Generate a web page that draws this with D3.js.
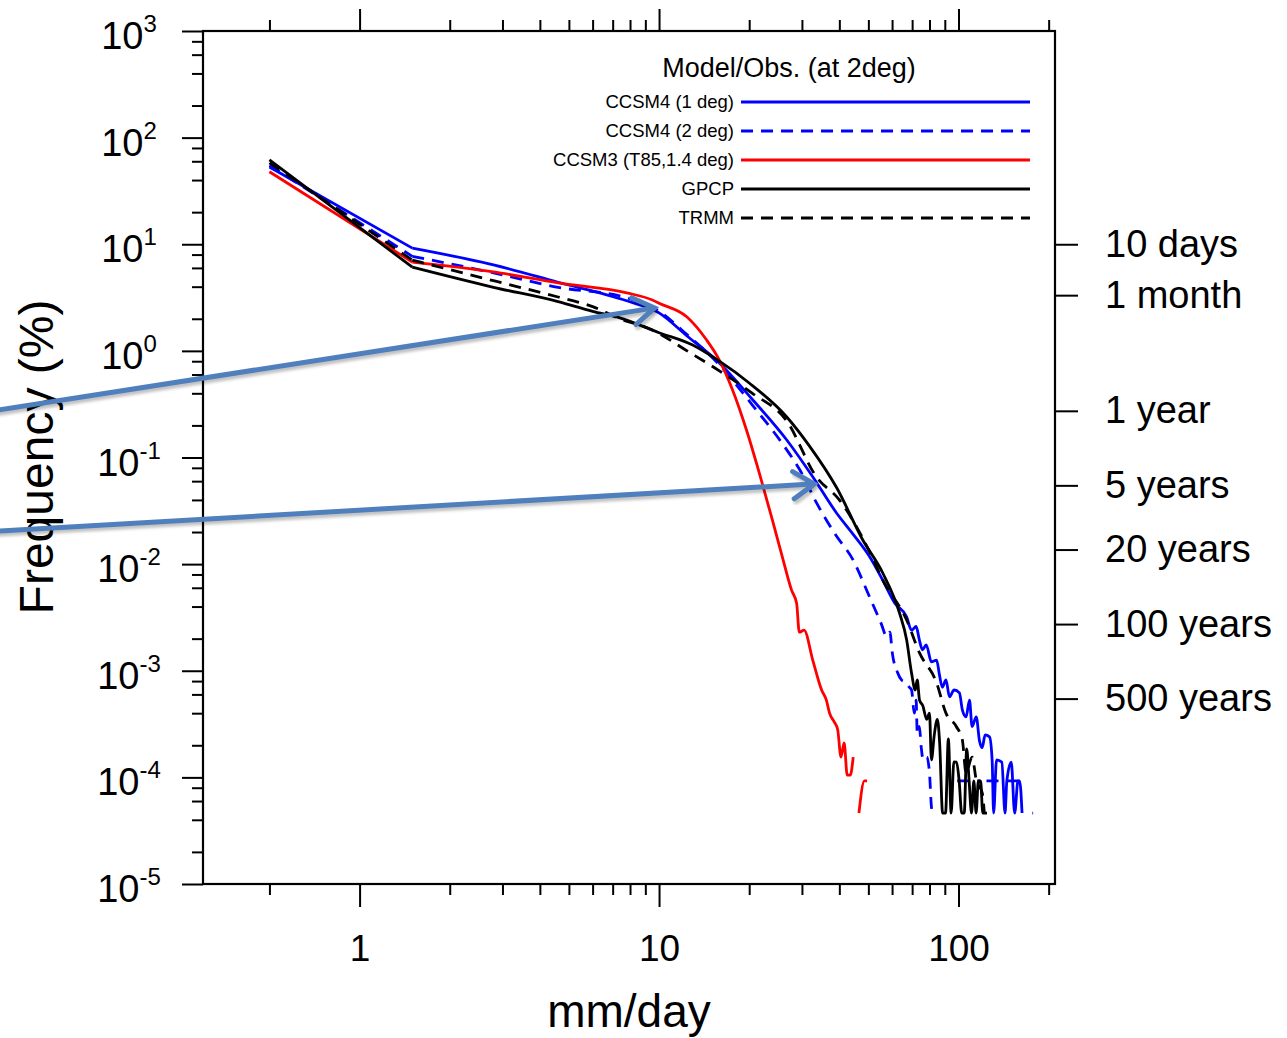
<!DOCTYPE html>
<html>
<head>
<meta charset="utf-8">
<script src="https://cdn.jsdelivr.net/npm/d3@7/dist/d3.min.js"></script>
<style>
  body { margin: 0; background: #fff; }
  text { font-family: "Liberation Sans", Arial, Helvetica, sans-serif; fill: #000; }
</style>
</head>
<body>
<div id="chart"></div>
<script>
// series: [mm/day, frequency %], null = empty bin
var ccsm4_1deg = [[0.5, 53], [1.5, 9.2], [2.8, 6.4], [4.6, 4.4], [7.8, 2.95], [10, 2.27], [12.4, 1.38],
  [15.9, 0.77], [20.5, 0.35], [26.7, 0.146], [32.6, 0.066], [39.2, 0.030], [44.5, 0.019], [50.5, 0.0117],
  [55.8, 0.0071], [61.3, 0.0043], [67.1, 0.0032], [69.7, 0.0024], [72.2, 0.0026], [74, 0.00195],
  [75.8, 0.00157], [78, 0.00175], [81.2, 0.00121], [84.5, 0.00126], [86.4, 0.00091], [88.3, 0.0007],
  [90.8, 0.00082], [93.3, 0.00057], [96.7, 0.00066], [100.7, 0.00062], [103, 0.00043], [106, 0.00037],
  [108.8, 0.00053], [111, 0.0003], [114.6, 0.00037], [117.5, 0.00022], [120, 0.00019], [122.7, 0.00025],
  [126.9, 0.00024], [129.5, 0.000146], [131, 0.0000463], [134, 0.000146], [139.5, 0.000139],
  [143, 0.0000463], [145, 0.0000926], [150, 0.000139], [154, 0.0000463], [158, 0.0000926],
  [160, 0.0000926], [163, 0.0000463], [165, null], [176.5, 0.0000463], [177.5, 0.0000463]];

var ccsm4_2deg = [[0.5, 55], [1.5, 7.7], [2.8, 5.4], [4.6, 3.95], [7.8, 3.15], [10, 2.35], [12.4, 1.42],
  [15.9, 0.74], [20.5, 0.31], [26.7, 0.118], [29.4, 0.078], [33.5, 0.038], [38.5, 0.0196], [44.4, 0.011],
  [50.5, 0.0049], [55.1, 0.0028], [57.6, 0.0021], [59, 0.0023], [60.1, 0.00147], [62.7, 0.00095],
  [64.5, 0.00082], [67.1, 0.00077], [68.5, 0.0007], [69.7, 0.00066], [71.2, 0.0004], [72.2, 0.00053],
  [72.8, 0.00026], [74, 0.0003], [75.1, 0.00019], [76.2, 0.000146], [78.3, 0.000155], [80, 0.00011],
  [81.2, 0.000053], [82, 0.0000463], [83, null], [99, 0.0000926], [118, 0.0000926], [119, null],
  [124, 0.0000926], [160, 0.0000926]];

var ccsm3_t85 = [[0.5, 47.8], [1.5, 6.8], [2.8, 5.5], [4.6, 4.35], [7.8, 3.5], [9.5, 3.0], [10, 2.8],
  [12.4, 2.08], [14.4, 1.27], [15.9, 0.82], [17.6, 0.43], [19.6, 0.18], [21.6, 0.072], [23.9, 0.026],
  [25.8, 0.0117], [27.7, 0.0057], [28.8, 0.0043], [29.4, 0.0023], [30.5, 0.0024], [32.6, 0.00126],
  [34.9, 0.00066], [36.2, 0.00053], [37.1, 0.0004], [38.5, 0.00033], [39.5, 0.00028], [40.5, 0.000155],
  [41.5, 0.00021], [42.5, 0.000105], [43.5, 0.000105], [44.5, 0.000155], [45.5, null],
  [46.5, 0.0000463], [48.5, 0.0000926], [49.5, 0.0000926]];

var gpcp = [[0.5, 62], [1.5, 6.1], [2.8, 3.95], [4.6, 2.9], [6, 2.35], [7.4, 2.04], [10, 1.48], [12.9, 1.14],
  [15.9, 0.8], [20, 0.5], [26.7, 0.24], [31.8, 0.128], [39.2, 0.052], [47.8, 0.017], [55.8, 0.0083],
  [63.5, 0.0035], [67.1, 0.00195], [69.7, 0.00095], [71.7, 0.00066], [72.8, 0.00082], [74.1, 0.00053],
  [76, 0.00047], [78.3, 0.00035], [80, 0.0004], [81.2, 0.000146], [83, 0.00025], [85, 0.00035],
  [86.5, 0.00021], [88.5, 0.0000463], [90.5, 0.0000463], [92.5, 0.00023], [94.5, 0.0000463],
  [96.5, 0.00014], [98.5, 0.000139], [100.5, 0.0000926], [102.5, 0.0000463], [104.5, 0.0000463],
  [106.5, 0.000185], [108.5, 0.0000926], [110.5, 0.0000463], [112.5, 0.0000926], [114.5, 0.0000463],
  [116.5, 0.0000926], [118.5, 0.0000926], [120.5, 0.0000463], [124.5, 0.0000463]];

var trmm = [[0.5, 58], [1.5, 7.1], [2.8, 4.55], [4.6, 3.2], [6, 2.6], [7.4, 2.0], [9.5, 1.57], [12.4, 1.0],
  [15.9, 0.65], [20.5, 0.4], [26.7, 0.22], [33.5, 0.066], [40, 0.04], [50.5, 0.013], [55.8, 0.0071],
  [67.1, 0.003], [74.1, 0.00147], [84.5, 0.00077], [90.8, 0.0004], [98.3, 0.0003], [103, 0.000224],
  [106, 0.00011], [111, 0.000155], [114.6, 0.0000946], [120, 0.0000715], [122, 0.0000463]];

var seriesNames = ['CCSM4 (1 deg)', 'CCSM4 (2 deg)', 'CCSM3 (T85,1.4 deg)', 'GPCP', 'TRMM'];
var legendTitle = 'Model/Obs. (at 2deg)';

// axis ticks
var xMajorTicks = [1, 10, 100];
var xMinorTicks = [0.5, 2, 3, 4, 5, 6, 7, 8, 9, 20, 30, 40, 50, 60, 70, 80, 90, 200];
var yExponents = [3, 2, 1, 0, -1, -2, -3, -4, -5];
var yMinorMantissas = [2, 4, 6, 8];

// right axis: return periods
var returnLabels = ['10 days', '1 month', '1 year', '5 years', '20 years', '100 years', '500 years'];
var returnFreq = [10, 3.33, 0.274, 0.0548, 0.0137, 0.00274, 0.000548];

// annotation arrows [mm/day, %]
var arrowTails = [[0.058, 0.271], [0.058, 0.0202]];
var arrowTips = [[9.66, 2.53], [33.0, 0.0565]];

var width = 1287, height = 1038;
var plotLeft = 203, plotRight = 1055, plotTop = 31, plotBottom = 884;
var font = '"Liberation Sans", Arial, Helvetica, sans-serif';

var colors = ['#0000ff', '#0000ff', '#ff0000', '#000000', '#000000'];
var dashes = [null, '12,8', null, null, '12,8'];

var svg = d3.select('#chart')
  .append('svg')
  .attr('width', width)
  .attr('height', height);

var x = d3.scaleLog().domain([0.3, 210]).range([plotLeft, plotRight]);
var y = d3.scaleLog().domain([1e-5, 1e3]).range([plotBottom, plotTop]);

function cleanAxis(g, size) {
  g.select('.domain').remove();
  g.selectAll('line').attr('stroke', '#000').attr('stroke-width', 2);
  g.attr('font-family', font).attr('font-size', size || 10);
}

// bottom
svg.append('g')
  .attr('transform', 'translate(0,' + plotBottom + ')')
  .call(d3.axisBottom(x).tickValues(xMinorTicks).tickSize(11).tickFormat(''))
  .call(cleanAxis);
svg.append('g')
  .attr('transform', 'translate(0,' + plotBottom + ')')
  .call(d3.axisBottom(x).tickValues(xMajorTicks).tickSize(23).tickPadding(28).tickFormat(d3.format('d')))
  .call(cleanAxis, 37);

// top
svg.append('g')
  .attr('transform', 'translate(0,' + plotTop + ')')
  .call(d3.axisTop(x).tickValues(xMinorTicks).tickSize(11).tickFormat(''))
  .call(cleanAxis);
svg.append('g')
  .attr('transform', 'translate(0,' + plotTop + ')')
  .call(d3.axisTop(x).tickValues(xMajorTicks).tickSize(22).tickFormat(''))
  .call(cleanAxis);

// left
var yMinor = [];
yExponents.slice(1).forEach(function(e) {
  yMinorMantissas.forEach(function(m) { yMinor.push(m * Math.pow(10, e)); });
});
svg.append('g')
  .attr('transform', 'translate(' + plotLeft + ',0)')
  .call(d3.axisLeft(y).tickValues(yMinor).tickSize(11).tickFormat(''))
  .call(cleanAxis);
svg.append('g')
  .attr('transform', 'translate(' + plotLeft + ',0)')
  .call(d3.axisLeft(y).tickValues(yExponents.map(function(e) { return Math.pow(10, e); })).tickSize(21).tickFormat(''))
  .call(cleanAxis);

var yLab = svg.append('g').selectAll('text')
  .data(yExponents)
  .enter()
  .append('text')
  .attr('x', 129)
  .attr('y', function(d) { return y(Math.pow(10, d)) + 18; })
  .attr('text-anchor', 'middle')
  .attr('font-size', 38);
yLab.append('tspan').text('10');
yLab.append('tspan')
  .attr('dy', -17)
  .attr('font-size', 24)
  .text(function(d) { return d < 0 ? '-' + (-d) : d; });

// right
svg.append('g')
  .attr('transform', 'translate(' + plotRight + ',0)')
  .call(d3.axisRight(y).tickValues(returnFreq).tickSize(23).tickPadding(27)
    .tickFormat(function(d, i) { return returnLabels[i]; }))
  .call(cleanAxis, 38);

// frame
svg.append('rect')
  .attr('x', plotLeft).attr('y', plotTop)
  .attr('width', plotRight - plotLeft).attr('height', plotBottom - plotTop)
  .attr('fill', 'none').attr('stroke', '#000').attr('stroke-width', 2.2);

// data lines: straight first bin segment, smooth afterwards
var lineHead = d3.line()
  .x(function(d) { return x(d[0]); })
  .y(function(d) { return y(d[1]); });
var lineRest = d3.line()
  .defined(function(d) { return d[1] != null; })
  .curve(d3.curveMonotoneX)
  .x(function(d) { return x(d[0]); })
  .y(function(d) { return y(d[1]); });

var allSeries = [ccsm4_1deg, ccsm4_2deg, ccsm3_t85, gpcp, trmm];

allSeries.forEach(function(s, i) {
  var g = svg.append('g')
    .attr('fill', 'none')
    .attr('stroke', colors[i])
    .attr('stroke-width', 2.8)
    .attr('stroke-linejoin', 'round')
    .attr('stroke-dasharray', dashes[i]);
  g.append('path').attr('d', lineHead(s.slice(0, 2)));
  g.append('path').attr('d', lineRest(s.slice(1)));
});

// legend
var legend = svg.append('g');
legend.append('text')
  .attr('x', 789).attr('y', 77)
  .attr('text-anchor', 'middle')
  .attr('font-size', 27)
  .text(legendTitle);

var rows = legend.selectAll('.legend')
  .data(seriesNames)
  .enter()
  .append('g')
  .attr('class', 'legend')
  .attr('transform', function(d, i) { return 'translate(0,' + (102 + i * 29) + ')'; });

rows.append('text')
  .attr('x', 734).attr('y', 6)
  .attr('text-anchor', 'end')
  .attr('font-size', 18.5)
  .text(function(d) { return d; });

rows.append('line')
  .attr('x1', 741).attr('x2', 1030)
  .attr('y1', 0).attr('y2', 0)
  .attr('stroke', function(d, i) { return colors[i]; })
  .attr('stroke-width', 2.8)
  .attr('stroke-dasharray', function(d, i) { return dashes[i]; });

// axis titles
svg.append('text')
  .attr('transform', 'translate(53,457) rotate(-90)')
  .attr('text-anchor', 'middle')
  .attr('font-size', 48)
  .text('Frequency (%)');

svg.append('text')
  .attr('x', 629).attr('y', 1027)
  .attr('text-anchor', 'middle')
  .attr('font-size', 46)
  .text('mm/day');

// arrows
var defs = svg.append('defs');
defs.append('filter').attr('id', 'shadow')
  .append('feGaussianBlur').attr('stdDeviation', 1.5);

arrowTips.forEach(function(tip, i) {
  var x0 = x(arrowTails[i][0]), y0 = y(arrowTails[i][1]);
  var x1 = x(tip[0]), y1 = y(tip[1]);
  var a = Math.atan2(y1 - y0, x1 - x0);
  var L = 25, th = 33 * Math.PI / 180;
  var head = [[x1 - L * Math.cos(a - th), y1 - L * Math.sin(a - th)], [x1, y1],
              [x1 - L * Math.cos(a + th), y1 - L * Math.sin(a + th)]];
  var shaft = [[x0, y0], [x1 - 3 * Math.cos(a), y1 - 3 * Math.sin(a)]];
  var g = svg.append('g');
  [[2, 3, 'rgba(0,0,0,0.25)', 'url(#shadow)'], [0, 0, '#4f7fbd', null]].forEach(function(s) {
    g.append('path')
      .attr('d', d3.line()(shaft))
      .attr('transform', 'translate(' + s[0] + ',' + s[1] + ')')
      .attr('stroke', s[2]).attr('stroke-width', 5).attr('fill', 'none')
      .attr('filter', s[3]);
    g.append('path')
      .attr('d', d3.line()(head))
      .attr('transform', 'translate(' + s[0] + ',' + s[1] + ')')
      .attr('stroke', s[2]).attr('stroke-width', 5).attr('fill', 'none')
      .attr('stroke-linecap', 'round').attr('stroke-linejoin', 'miter')
      .attr('filter', s[3]);
  });
});
</script>
</body>
</html>
